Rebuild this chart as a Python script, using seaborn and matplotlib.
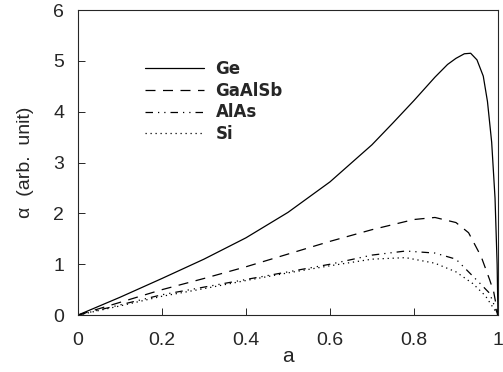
import numpy as np
import pandas as pd
import matplotlib
matplotlib.use("Agg")
import matplotlib.pyplot as plt
import seaborn as sns

# values
a_ge = [0, 0.1, 0.2, 0.3, 0.4, 0.5, 0.6, 0.7, 0.75, 0.8, 0.85, 0.88, 0.9, 0.92, 0.935, 0.95, 0.965, 0.975, 0.985, 0.993, 0.998, 1.0]
ge = [0, 0.35, 0.72, 1.1, 1.52, 2.02, 2.62, 3.35, 3.78, 4.22, 4.68, 4.93, 5.05, 5.14, 5.15, 5.02, 4.7, 4.2, 3.4, 2.3, 1.0, 0]

a_gaalsb = [0, 0.1, 0.2, 0.3, 0.4, 0.5, 0.6, 0.7, 0.8, 0.85, 0.9, 0.93, 0.96, 0.98, 0.99, 1.0]
gaalsb = [0, 0.25, 0.5, 0.72, 0.95, 1.2, 1.45, 1.68, 1.88, 1.92, 1.82, 1.62, 1.15, 0.7, 0.45, 0]

a_alas = [0, 0.1, 0.2, 0.3, 0.4, 0.5, 0.6, 0.7, 0.78, 0.85, 0.9, 0.93, 0.96, 0.98, 1.0]
alas = [0, 0.2, 0.4, 0.55, 0.7, 0.85, 1.0, 1.18, 1.26, 1.22, 1.1, 0.85, 0.6, 0.43, 0]

a_si = [0, 0.1, 0.2, 0.3, 0.4, 0.5, 0.6, 0.7, 0.78, 0.85, 0.9, 0.94, 0.97, 1.0]
si = [0, 0.18, 0.37, 0.52, 0.68, 0.83, 0.97, 1.1, 1.13, 1.02, 0.85, 0.62, 0.38, 0]

labels = ["Ge", "GaAlSb", "AlAs", "Si"]
styles = ["-", (0, (8, 6)), (0, (6, 4, 1, 4, 1, 4)), (0, (1, 3))]

sns.set_style("ticks")
plt.rcParams['font.family'] = ['Liberation Sans', 'DejaVu Sans']

fig = plt.figure(figsize=(5.03, 3.72), dpi=100)
ax = fig.add_axes([0.155, 0.153, 0.835, 0.82])

series = [(a_ge, ge), (a_gaalsb, gaalsb), (a_alas, alas), (a_si, si)]
for (xs, ys), lab, ls in zip(series, labels, styles):
    df = pd.DataFrame({"a": xs, "alpha": ys})
    sns.lineplot(data=df, x="a", y="alpha", ax=ax, color="black",
                 linewidth=0.9, linestyle=ls, label=lab)

ax.set_xlim(0, 1)
ax.set_ylim(0, 6)
ax.set_xticks([0, 0.2, 0.4, 0.6, 0.8, 1])
ax.set_xticklabels(["0", "0.2", "0.4", "0.6", "0.8", "1"])
ax.set_yticks(range(7))
ax.tick_params(direction="in", labelsize=14, length=5, width=0.7)
ax.tick_params(axis="x", pad=12)
ax.tick_params(axis="y", pad=10)
ax.set_xlabel("a", fontsize=15, labelpad=-1)
ax.set_ylabel("α  (arb.  unit)", fontsize=14, labelpad=14)
for s in ax.spines.values():
    s.set_linewidth(0.8)

leg = ax.legend(loc="upper left", bbox_to_anchor=(0.125, 0.885), frameon=False,
                handlelength=3.5, labelspacing=0.22, handletextpad=0.7,
                prop={"family": "DejaVu Sans", "weight": "bold", "size": 12})

fig.savefig("out.png", dpi=100)
